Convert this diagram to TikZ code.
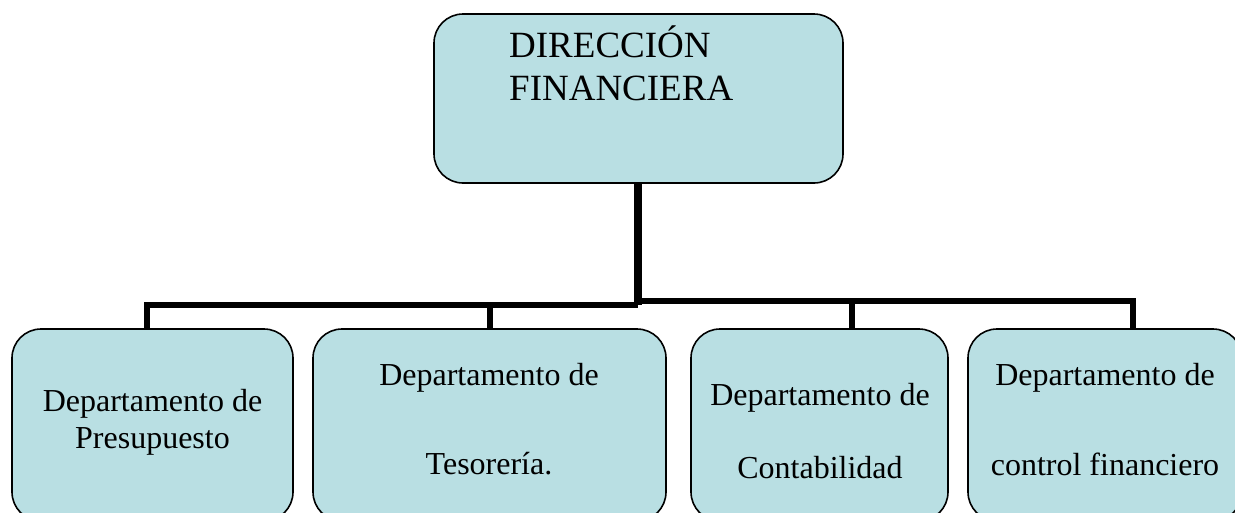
\documentclass[tikz,border=0pt]{standalone}
\usepackage{fontspec}
\setmainfont{Liberation Serif}
\definecolor{boxfill}{RGB}{185,223,227}
\tikzset{
  orgbox/.style={draw=black, line width=1.6pt, fill=boxfill, rounded corners=29pt, inner sep=0pt},
  titletext/.style={inner sep=0pt, font=\fontsize{37}{43}\selectfont},
  depttext/.style={inner sep=0pt, anchor=base, font=\fontsize{32}{37}\selectfont},
  trunkline/.style={line width=8pt, line cap=butt},
  barline/.style={line width=6pt, line cap=butt, line join=miter},
  dropline/.style={line width=5.5pt, line cap=butt}
}
\begin{document}
\begin{tikzpicture}[x=1pt, y=-1pt]
\useasboundingbox (0,0) rectangle (1235,512);
\clip (0,0) rectangle (1235,512);
% boxes
\node[orgbox, minimum width=409pt, minimum height=169pt] (top) at (638.5,98.5) {};
\node[orgbox, minimum width=281pt, minimum height=192pt] (b1) at (152.5,425) {};
\node[orgbox, minimum width=353pt, minimum height=192pt] (b2) at (489.5,425) {};
\node[orgbox, minimum width=257pt, minimum height=192pt] (b3) at (819.5,425) {};
\node[orgbox, minimum width=274pt, minimum height=192pt] (b4) at (1105,425) {};
% connector points
\coordinate (jl) at (637.5,305);
\coordinate (jr) at (637.5,301);
\coordinate (d1) at (147,329);
\coordinate (d2) at (490,329);
\coordinate (d3) at (852,329);
\coordinate (d4) at (1133,329);
% connectors
\draw[trunkline] (top.south -| jl) -- (jl);
\draw[barline] (jl) -| (d1);
\draw[dropline] (d2 |- jl) -- (d2);
\draw[barline] (jr) -| (d4);
\draw[dropline] (d3 |- jr) -- (d3);
% texts
\node[titletext, anchor=base west] (t1) at (509,57) {DIRECCIÓN};
\node[titletext, anchor=base west] (t2) at (509,100) {FINANCIERA};
\node[depttext] (b1a) at (152.5,411) {Departamento de};
\node[depttext] (b1b) at (152.5,448) {Presupuesto};
\node[depttext] (b2a) at (489,385) {Departamento de};
\node[depttext] (b2b) at (489,474) {Tesorería.};
\node[depttext] (b3a) at (820,405) {Departamento de};
\node[depttext] (b3b) at (820,478) {Contabilidad};
\node[depttext] (b4a) at (1105,385) {Departamento de};
\node[depttext] (b4b) at (1105,475) {control financiero};
\end{tikzpicture}
\end{document}
